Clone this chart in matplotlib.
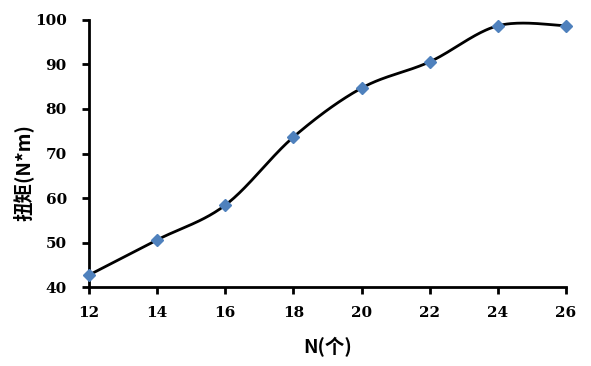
import matplotlib.pyplot as plt
import numpy as np

# data
N_COUNT = [12, 14, 16, 18, 20, 22, 24, 26]
TORQUE = [42.7, 50.6, 58.4, 73.7, 84.7, 90.6, 98.7, 98.7]

X_TICKS = [12, 14, 16, 18, 20, 22, 24, 26]
Y_TICKS = [40, 50, 60, 70, 80, 90, 100]

plt.rcParams["font.family"] = ["Noto Sans CJK SC", "DejaVu Sans"]


def smooth_curve(xs, ys, steps=40):
    """Excel-like smoothed line: Catmull-Rom segments as cubic Beziers."""
    pts = np.column_stack([xs, ys]).astype(float)
    n = len(pts)
    out = [pts[0]]
    t = np.linspace(0, 1, steps)[1:, None]
    for i in range(n - 1):
        p0 = pts[max(i - 1, 0)]
        p1 = pts[i]
        p2 = pts[i + 1]
        p3 = pts[min(i + 2, n - 1)]
        c1 = p1 + (p2 - p0) / 6
        c2 = p2 - (p3 - p1) / 6
        seg = ((1 - t) ** 3) * p1 + 3 * ((1 - t) ** 2) * t * c1 \
            + 3 * (1 - t) * t ** 2 * c2 + t ** 3 * p2
        out.extend(seg)
    out = np.array(out)
    return out[:, 0], out[:, 1]


fig = plt.figure(figsize=(5.91, 3.66), dpi=100)
ax = fig.add_axes([0.1506, 0.2158, 0.8071, 0.7296])

sx, sy = smooth_curve(N_COUNT, TORQUE)
ax.plot(sx, sy, color="black", linewidth=2.0, zorder=2, clip_on=False)
ax.plot(N_COUNT, TORQUE, linestyle="none", marker="D", markersize=6,
        color="#4F81BD", markeredgecolor="#4F81BD", zorder=3, clip_on=False)

ax.set_xlim(12, 26)
ax.set_ylim(40, 100)
ax.set_xticks(X_TICKS)
ax.set_yticks(Y_TICKS)

for side in ("top", "right"):
    ax.spines[side].set_visible(False)
for side in ("left", "bottom"):
    ax.spines[side].set_linewidth(2)

ax.tick_params(axis="both", direction="out", length=5, width=2)
ax.tick_params(axis="x", pad=9)
ax.tick_params(axis="y", pad=11)
for lab in ax.get_xticklabels() + ax.get_yticklabels():
    lab.set_fontfamily("DejaVu Serif")
    lab.set_fontweight("bold")
    lab.set_fontsize(11)

ax.set_xlabel("N(个)", fontsize=14, fontweight="bold", va="center")
ax.xaxis.set_label_coords(0.5, -0.225)
ax.set_ylabel("扭矩(N*m)", fontsize=14, fontweight="bold", va="center")
ax.yaxis.set_label_coords(-0.138, 0.43)

fig.savefig("out.png", dpi=100)
